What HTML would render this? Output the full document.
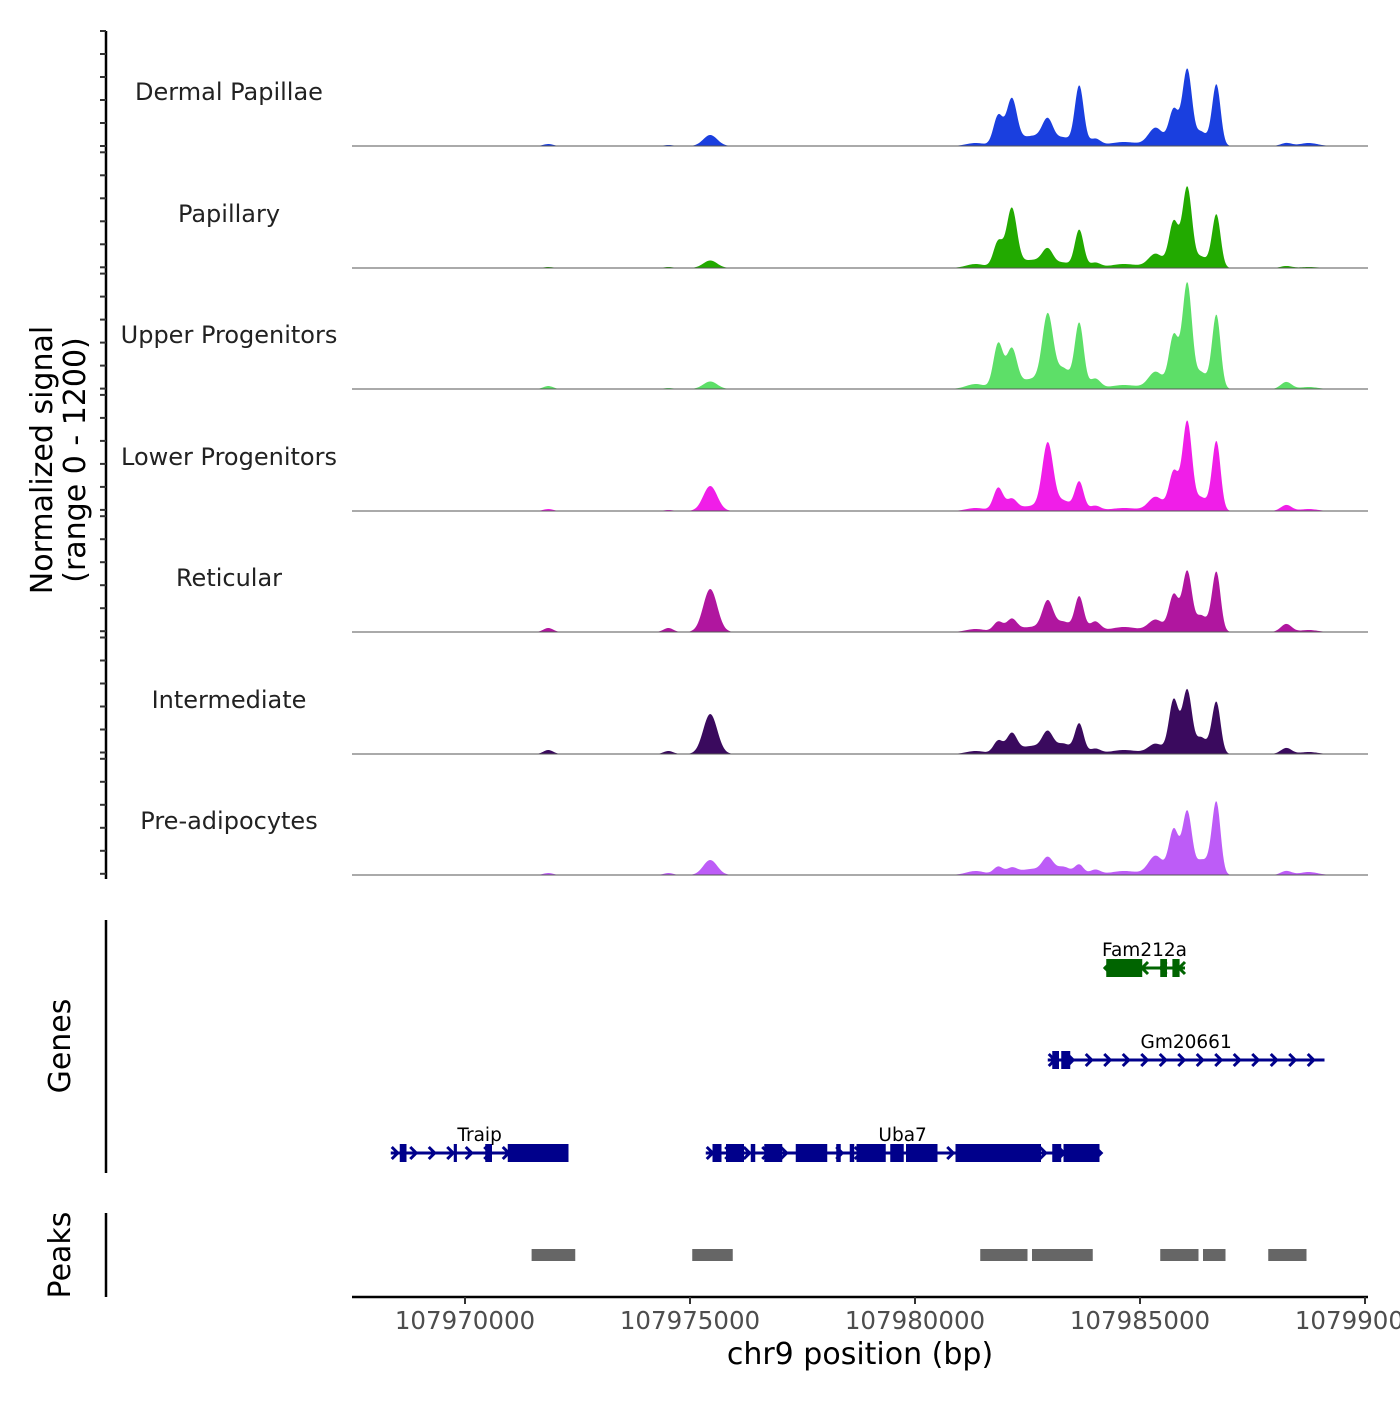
<!DOCTYPE html>
<html><head><meta charset="utf-8"><style>
body{margin:0;background:#fff}
svg text{font-family:"DejaVu Sans","Liberation Sans",sans-serif}
</style></head><body>
<svg id="chart" width="1400" height="1400" viewBox="0 0 1400 1400" xmlns="http://www.w3.org/2000/svg">
<g id="tracks"></g>
<g id="genes"></g>
<g id="peaks"></g>
<g id="axes"></g>
</svg>
<script>
// ---- data ----
const trackNames = ["Dermal Papillae","Papillary","Upper Progenitors","Lower Progenitors","Reticular","Intermediate","Pre-adipocytes"];
const trackColors = ["#1a3fdf","#22aa00","#5ddf68","#f01ee8","#b0169f","#3a0a5e","#bd5cf7"];
const peakCenters = [107971850,107974520,107975450,107981350,107981850,107982150,107982600,107982950,107983300,107983650,107984000,107984650,107985350,107985750,107986050,107986350,107986550,107986700,107988250,107988750];
const peakWidths  = [150,150,220,300,150,160,400,170,220,140,170,450,230,150,150,140,140,130,170,280];
const dermal   = [20,10,110,30,300,450,100,230,80,600,70,40,180,360,770,130,60,600,30,30];
const papillary= [10,10,75,40,260,580,80,160,50,380,50,40,140,460,810,100,60,520,20,10];
const upper    = [30,10,75,50,450,380,100,700,200,650,100,40,170,530,1060,150,80,720,70,20];
const lower    = [20,10,250,30,230,110,50,660,100,290,50,30,140,390,900,120,70,680,60,20];
const reticular= [40,40,430,30,100,120,50,290,100,350,100,50,120,370,610,150,80,580,80,20];
const interm   = [40,30,400,30,130,190,80,190,100,300,50,40,100,540,640,150,80,500,60,20];
const preadipo = [20,20,150,40,80,60,60,150,80,100,50,40,190,450,640,130,120,700,40,30];
const trackValues = [dermal,papillary,upper,lower,reticular,interm,preadipo];
const xTicks = [107970000,107975000,107980000,107985000,107990000];
const xTickLabels = ["107970000","107975000","107980000","107985000","107990000"];
const genes = [
 {name:"Traip",start:107968350,end:107972300,strand:1,row:2,color:"#00008b",exons:[[107968550,107968700],[107969750,107969820],[107970450,107970600],[107970950,107972300]]},
 {name:"Uba7",start:107975350,end:107984100,strand:1,row:2,color:"#00008b",exons:[[107975500,107975700],[107975800,107976200],[107976350,107976450],[107976650,107977050],[107977350,107978050],[107978250,107978350],[107978550,107978650],[107978700,107979350],[107979450,107979750],[107979800,107980500],[107980900,107982800],[107983050,107983250],[107983300,107984100]]},
 {name:"Gm20661",start:107982950,end:107989100,strand:1,row:1,color:"#00008b",exons:[[107983050,107983200],[107983250,107983450]]},
 {name:"Fam212a",start:107984200,end:107986000,strand:-1,row:0,color:"#006400",exons:[[107984250,107985050],[107985450,107985600],[107985720,107985880]]}
];
const peakRegions = [[107971480,107972450],[107975050,107975950],[107981450,107982500],[107982600,107983950],[107985450,107986300],[107986400,107986900],[107987850,107988700]];
// ---- scales ----
const X0=465, BP0=107970000, PXPERBP=225/5000;
function xs(bp){return X0+(bp-BP0)*PXPERBP;}
const trackBase=[146,268,389,511,632,754,875];
function ys(v,i){return trackBase[i]-v/1200*120;}
const NS="http://www.w3.org/2000/svg";
function mk(tag,attrs,parent){const e=document.createElementNS(NS,tag);for(const k in attrs)e.setAttribute(k,attrs[k]);parent.appendChild(e);return e;}
const tracks=document.getElementById('tracks');
const PX_L=352, PX_R=1368;
trackValues.forEach((vals,i)=>{
  let d="M"+PX_L+","+trackBase[i];
  for(let x=PX_L;x<=PX_R;x+=1){
    const bp=BP0+(x-X0)/PXPERBP;
    let s=0;
    for(let k=0;k<peakCenters.length;k++){const z=(bp-peakCenters[k])/peakWidths[k];s+=vals[k]*Math.exp(-z*z);}
    d+=" L"+x+","+ys(s,i).toFixed(2);
  }
  d+=" L"+PX_R+","+trackBase[i]+" Z";
  const p=mk('path',{d:d,fill:trackColors[i]},tracks);
  
  
  const b=mk('line',{x1:PX_L,x2:PX_R,y1:trackBase[i],y2:trackBase[i],stroke:"#555","stroke-width":1},tracks);
  
  
  const t=mk('text',{x:229,y:trackBase[i]-46,"text-anchor":"middle","font-size":24,fill:"#222"},tracks);
  t.textContent=trackNames[i];
  
  
});
// genes
const gg=document.getElementById('genes');
const rowY=[968,1060,1153];
genes.forEach(g=>{
  const y=rowY[g.row], x1=xs(g.start), x2=xs(g.end);
  const grp=mk('g',{},gg);
  
  
  mk('line',{x1:x1,x2:x2,y1:y,y2:y,stroke:g.color,"stroke-width":3},grp);
  for(let x=x1+4;x<x2;x+=18.5){
    const a=g.strand>0?`M${x-3},${y-6} L${x+3},${y} L${x-3},${y+6}`:`M${x+3},${y-6} L${x-3},${y} L${x+3},${y+6}`;
    mk('path',{d:a,stroke:g.color,"stroke-width":3,fill:"none"},grp);
  }
  g.exons.forEach(e=>{mk('rect',{x:xs(e[0]),y:y-9,width:Math.max(3,xs(e[1])-xs(e[0])),height:18,fill:g.color},grp);});
  const t=mk('text',{x:(x1+x2)/2,y:y-12,"text-anchor":"middle","font-size":18.5,fill:"#000"},grp);
  t.textContent=g.name;
});
// peaks
const pg=document.getElementById('peaks');
peakRegions.forEach(r=>{
  const e=mk('rect',{x:xs(r[0]),y:1249,width:xs(r[1])-xs(r[0]),height:12,fill:"#666"},pg);
  
  
});
// axes
const ax=document.getElementById('axes');
mk('line',{x1:106,x2:106,y1:31,y2:879,stroke:"#000","stroke-width":2.5},ax);
for(let i=0;i<7;i++){
  const top=31+i*121.3;
  for(let k=0;k<6;k++){const y=top+k*23;mk('line',{x1:100,x2:106,y1:y,y2:y,stroke:"#333","stroke-width":2},ax);}
}
mk('line',{x1:106,x2:106,y1:920,y2:1173,stroke:"#000","stroke-width":2.5},ax);
mk('line',{x1:106,x2:106,y1:1213,y2:1297,stroke:"#000","stroke-width":2.5},ax);
mk('line',{x1:352,x2:1368,y1:1297,y2:1297,stroke:"#000","stroke-width":2.5},ax);
xTicks.forEach((v,i)=>{
  const x=xs(v);
  mk('line',{x1:x,x2:x,y1:1297,y2:1304,stroke:"#333","stroke-width":2},ax);
  const t=mk('text',{x:x,y:1329,"text-anchor":"middle","font-size":24.5,fill:"#4d4d4d"},ax);
  t.textContent=xTickLabels[i];
  
  
});
function lbl(txt,x,y,rot,size,name){const t=mk('text',{x:x,y:y,"text-anchor":"middle","font-size":size,fill:"#000",transform:rot?`rotate(-90 ${x} ${y})`:""},ax);t.textContent=txt;}
lbl("chr9 position (bp)",860,1364,false,30,"x-axis-title");
lbl("Normalized signal",52,460,true,30,"y-axis-title");
lbl("(range 0 - 1200)",85,460,true,30,"y-axis-subtitle");
lbl("Genes",70,1046,true,30,"genes-axis-title");
lbl("Peaks",70,1255,true,30,"peaks-axis-title");
</script>
</body></html>
